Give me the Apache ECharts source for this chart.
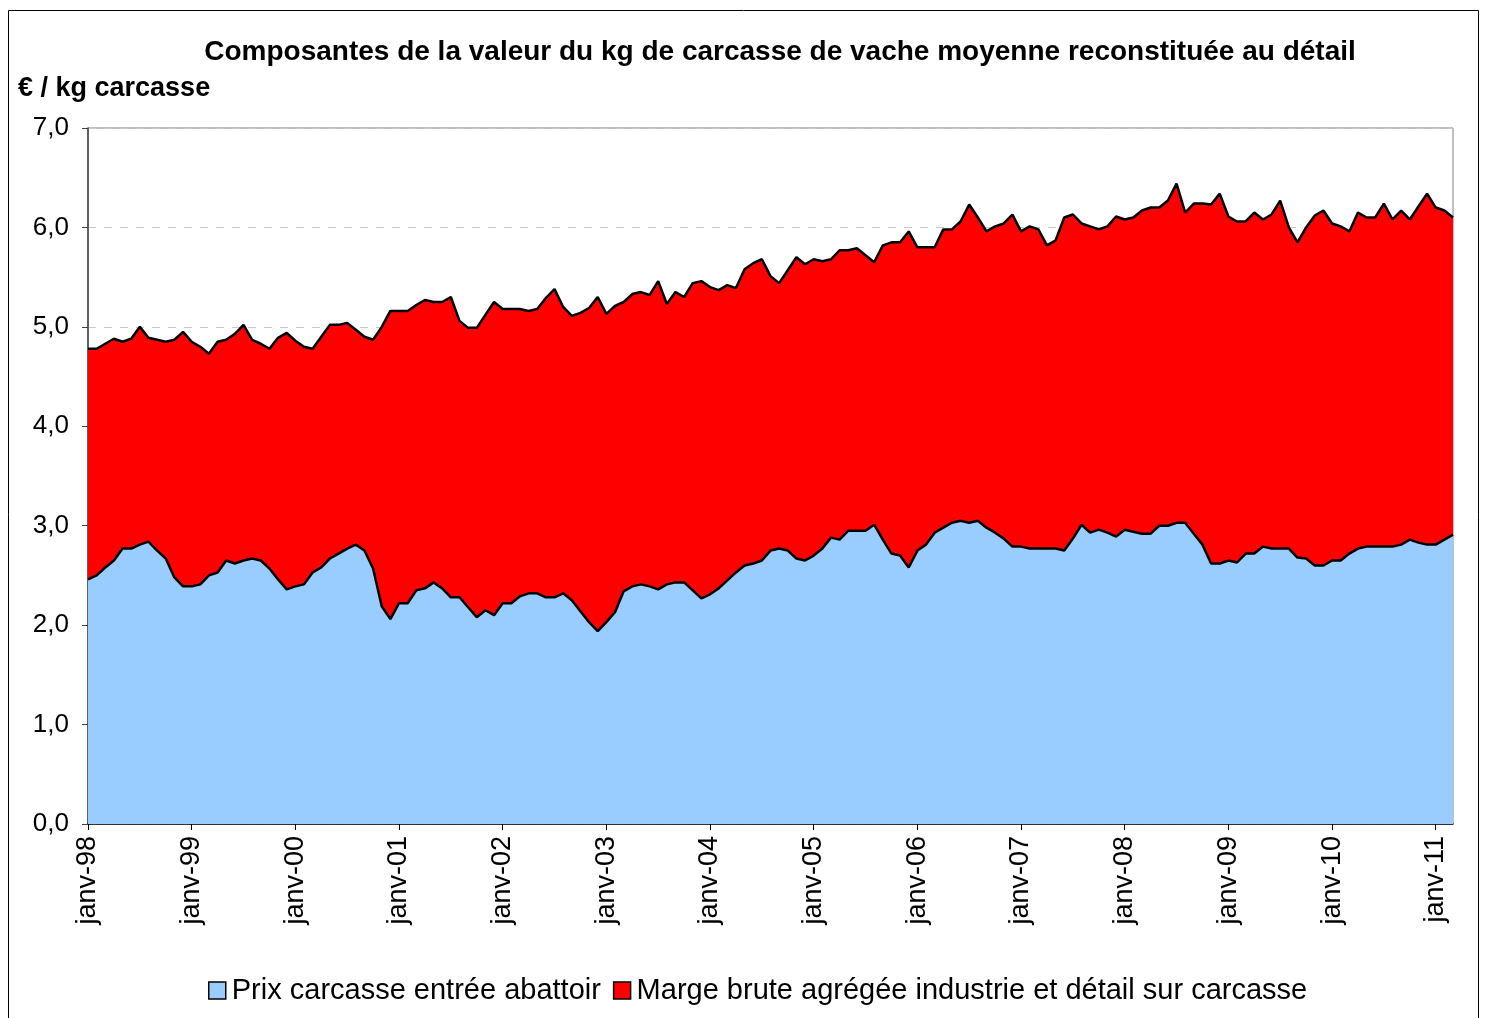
<!DOCTYPE html>
<html>
<head>
<meta charset="utf-8">
<script src="https://cdn.jsdelivr.net/npm/echarts@6/dist/echarts.min.js"></script>
<style>
html,body{margin:0;padding:0;background:#fff;}
#chart{width:1486px;height:1018px;}
</style>
</head>
<body>
<div id="chart"></div>
<script>
// Months Jan 1998 .. Mar 2011 (159 points)
const monthNames = ['janv','févr','mars','avr','mai','juin','juil','août','sept','oct','nov','déc'];
const startYear = 1998;
const nPoints = 159;

// Prix carcasse entrée abattoir (€/kg carcasse)
const prixCarcasse = [
  2.46,2.50,2.58,2.65,2.77,2.77,2.81,2.84,2.75,2.67,2.48,2.39,
  2.39,2.41,2.50,2.53,2.65,2.62,2.65,2.67,2.65,2.57,2.46,2.36,
  2.39,2.41,2.53,2.58,2.67,2.72,2.77,2.81,2.75,2.57,2.19,2.06,
  2.22,2.22,2.35,2.37,2.43,2.37,2.28,2.28,2.18,2.08,2.15,2.10,
  2.22,2.22,2.29,2.32,2.32,2.28,2.28,2.32,2.25,2.14,2.03,1.94,
  2.03,2.13,2.34,2.39,2.41,2.39,2.36,2.41,2.43,2.43,2.35,2.27,
  2.31,2.37,2.45,2.53,2.60,2.62,2.65,2.75,2.77,2.75,2.67,2.65,
  2.70,2.77,2.88,2.86,2.95,2.95,2.95,3.01,2.86,2.72,2.70,2.58,
  2.75,2.81,2.93,2.98,3.03,3.05,3.03,3.05,2.98,2.93,2.87,2.79,
  2.79,2.77,2.77,2.77,2.77,2.75,2.87,3.01,2.93,2.96,2.93,2.89,
  2.96,2.94,2.92,2.92,3.00,3.00,3.03,3.03,2.92,2.81,2.62,2.62,
  2.65,2.63,2.72,2.72,2.79,2.77,2.77,2.77,2.68,2.67,2.60,2.60,
  2.65,2.65,2.72,2.77,2.79,2.79,2.79,2.79,2.81,2.86,2.83,2.81,
  2.81,2.86,2.91
];

// Marge brute agrégée industrie et détail sur carcasse (€/kg carcasse)
const margeBrute = [
  2.32,2.28,2.25,2.23,2.08,2.11,2.19,2.05,2.12,2.18,2.39,2.56,
  2.46,2.39,2.23,2.32,2.22,2.31,2.37,2.20,2.18,2.21,2.43,2.58,
  2.47,2.39,2.25,2.32,2.35,2.30,2.27,2.16,2.15,2.30,2.81,3.10,
  2.94,2.94,2.87,2.90,2.82,2.88,3.02,2.78,2.81,2.91,2.97,3.15,
  2.96,2.96,2.89,2.84,2.86,3.01,3.10,2.88,2.86,3.00,3.16,3.36,
  3.10,3.08,2.91,2.94,2.94,2.93,3.10,2.82,2.92,2.87,3.09,3.19,
  3.09,3.00,2.97,2.86,2.98,3.02,3.03,2.76,2.67,2.82,3.03,2.98,
  2.98,2.89,2.80,2.91,2.82,2.84,2.77,2.64,2.96,3.13,3.15,3.38,
  3.05,2.99,2.87,3.00,2.95,3.01,3.20,3.05,2.98,3.08,3.17,3.34,
  3.17,3.24,3.21,3.05,3.10,3.35,3.26,3.03,3.08,3.02,3.08,3.22,
  3.12,3.16,3.25,3.28,3.20,3.27,3.41,3.12,3.32,3.43,3.61,3.72,
  3.46,3.43,3.34,3.43,3.29,3.36,3.50,3.23,3.17,3.33,3.52,3.57,
  3.39,3.36,3.24,3.38,3.31,3.31,3.45,3.29,3.36,3.22,3.38,3.53,
  3.39,3.31,3.19
];

const yTicks = [0,1,2,3,4,5,6,7];

const categories = [];
for (let i = 0; i < nPoints; i++) {
  const y = startYear + Math.floor(i / 12);
  categories.push(monthNames[i % 12] + '-' + String(y % 100).padStart(2, '0'));
}

const FONT = '"Liberation Sans", Arial, sans-serif';
const chart = echarts.init(document.getElementById('chart'), null, {renderer: 'canvas'});

chart.setOption({
  animation: false,
  backgroundColor: '#ffffff',
  textStyle: {fontFamily: FONT},
  graphic: [{
    type: 'rect',
    shape: {x: 8.5, y: 10.5, width: 1470, height: 1020},
    style: {fill: 'none', stroke: '#000', lineWidth: 1},
    silent: true
  }],
  title: [{
    text: 'Composantes de la valeur du kg de carcasse de vache moyenne reconstituée au détail',
    left: 775, top: 33, textAlign: 'center',
    textStyle: {fontFamily: FONT, fontSize: 28, fontWeight: 'bold', color: '#000'}
  }, {
    text: '€ / kg carcasse',
    left: 13, top: 70,
    textStyle: {fontFamily: FONT, fontSize: 27, fontWeight: 'bold', color: '#000'}
  }],
  legend: {
    left: 203, top: 971,
    icon: 'rect',
    itemWidth: 17, itemHeight: 17, itemGap: 12,
    textStyle: {fontFamily: FONT, fontSize: 29, color: '#000', padding: [0,0,0,1]},
    itemStyle: {borderColor: '#000', borderWidth: 1.5},
    data: ['Prix carcasse entrée abattoir', 'Marge brute agrégée industrie et détail sur carcasse']
  },
  grid: {
    left: 88, top: 128, right: 33, bottom: 194,
    show: true, borderColor: '#808080', borderWidth: 1, backgroundColor: 'transparent'
  },
  xAxis: {
    type: 'category',
    data: categories,
    boundaryGap: false,
    axisLine: {lineStyle: {color: '#000', width: 1.5}},
    axisTick: {interval: 11, length: 6, lineStyle: {color: '#000'}},
    axisLabel: {
      interval: 11, rotate: 90, margin: 12,
      fontFamily: FONT, fontSize: 27, color: '#000'
    },
    splitLine: {show: false}
  },
  yAxis: {
    type: 'value',
    min: yTicks[0], max: yTicks[yTicks.length - 1], interval: 1,
    axisLine: {show: true, lineStyle: {color: '#404040', width: 1.5}},
    axisTick: {show: true, length: 6, lineStyle: {color: '#404040'}},
    axisLabel: {
      margin: 19, fontFamily: FONT, fontSize: 26, color: '#000',
      formatter: v => v.toFixed(1).replace('.', ',')
    },
    splitLine: {show: true, lineStyle: {color: '#c8c8c8', type: [8, 8], width: 1}}
  },
  series: [{
    name: 'Prix carcasse entrée abattoir',
    type: 'line',
    stack: 'total',
    data: prixCarcasse,
    showSymbol: false,
    itemStyle: {color: '#99CCFF'},
    lineStyle: {color: '#000', width: 2.5},
    areaStyle: {color: '#99CCFF', opacity: 1},
    z: 2
  }, {
    name: 'Marge brute agrégée industrie et détail sur carcasse',
    type: 'line',
    stack: 'total',
    data: margeBrute,
    showSymbol: false,
    itemStyle: {color: '#FF0000'},
    lineStyle: {color: '#000', width: 2.5},
    areaStyle: {color: '#FF0000', opacity: 1},
    z: 1
  }]
});
</script>
</body>
</html>
